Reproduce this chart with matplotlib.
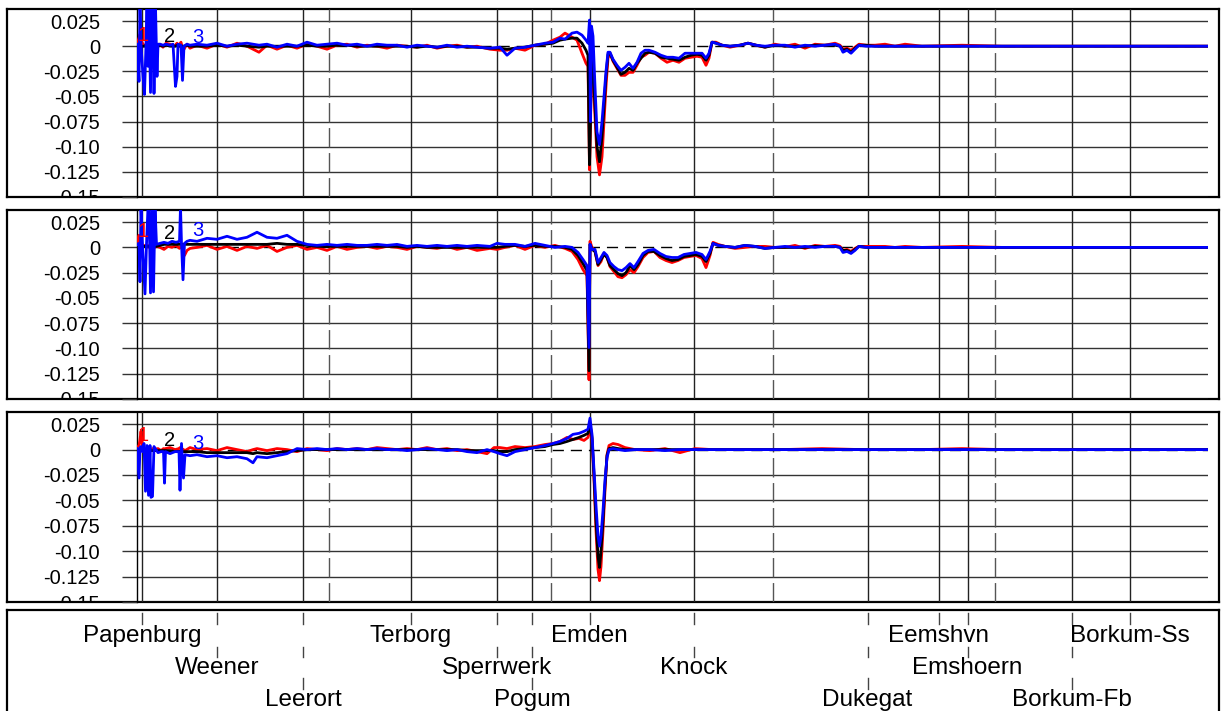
import matplotlib
matplotlib.use('Agg')
import matplotlib.pyplot as plt

plt.rcParams['font.family'] = ['Liberation Sans', 'DejaVu Sans']

# ---------------- stations / axes data (x in km along the estuary) ----------------
station_names = ['Papenburg', 'Weener', 'Leerort', 'Terborg', 'Sperrwerk', 'Pogum', 'Emden',
                 'Knock', 'Dukegat', 'Eemshvn', 'Emshoern', 'Borkum-Fb', 'Borkum-Ss']
station_km = [0.0, 7.5, 16.1, 26.9, 35.5, 39.0, 44.75, 55.2, 72.55, 79.7, 82.55, 93.0, 98.8]
station_row = [1, 2, 3, 1, 2, 3, 1, 2, 3, 1, 2, 3, 1]
boundary_km = [18.7, 40.9, 63.1, 85.3]
x_range = [-0.5, 106.6]
y_range = [-0.15, 0.037]
y_ticks = [0.025, 0, -0.025, -0.05, -0.075, -0.10, -0.125, -0.15]
y_ticklabels = ['0.025', '0', '-0.025', '-0.05', '-0.075', '-0.10', '-0.125', '-0.15']

# ---------------- panel 1 ----------------
p1_x = [-0.5, -0.3, -0.2, -0.1, 0.1, 0.25, 0.4, 0.5, 0.6, 0.7, 0.85, 1.0, 1.1, 1.2, 1.35, 1.5, 1.6, 1.8,
        2.1, 2.4, 2.8, 3.1, 3.35, 3.5, 3.6, 3.9, 4.05, 4.2, 4.5, 4.8,
        5.5, 6.5, 7.5, 8.5, 9.5, 10.5, 11.7, 12.5, 13.5, 14.5, 15.5, 16.5, 17.5, 18.5, 19.5, 20.5,
        21.5, 22.5, 23.5, 24.5, 25.5, 26.5, 27.5, 28.5, 29.5, 30.5, 31.5, 32.5, 33.5,
        34.8, 35.8, 36.5, 37.3, 38.3, 39.3, 40.3, 41.1, 41.8, 42.3, 43.0, 43.5, 44.0, 44.4, 44.6,
        44.75, 44.85, 44.95, 45.1, 45.3, 45.5, 45.75, 46.0, 46.2, 46.4, 46.6, 46.8, 47.1, 47.5,
        47.9, 48.3, 48.7, 49.1, 49.5, 49.9, 50.3, 50.7, 51.3, 51.9, 52.5, 53.1, 53.7, 54.3, 54.9,
        55.5, 56.0, 56.4, 56.7, 57.0, 57.4, 58.0, 58.8, 59.8, 60.6, 61.4, 62.3, 63.3, 64.3, 65.3,
        66.3, 67.3, 68.3, 69.3, 69.8, 70.1, 70.5, 70.9, 71.3, 71.7, 72.4, 73.3, 74.3, 75.3, 76.3,
        78.0, 82.0, 86.0, 90.0, 94.0, 98.0, 102.0, 106.6]
p1_red = [0.003, 0.008, 0.012, 0.006, 0.002, 0.001, 0.000, 0.002, -0.001, 0.001, 0.000, 0.002, 0.000, 0.001, -0.001, 0.001, 0.000, 0.002,
          -0.001, 0.003, 0.002, 0.000, 0.001, 0.003, 0.000, 0.004, -0.002, -0.003, 0.002, -0.002,
          0.001, -0.002, 0.002, -0.001, 0.003, 0.000, -0.006, 0.001, -0.003, 0.001, -0.002, 0.002, 0.000, -0.003, 0.001, 0.002,
          -0.001, 0.001, 0.000, -0.002, 0.001, 0.000, -0.001, 0.001, -0.002, 0.000, 0.001, -0.001, 0.000,
          -0.003, -0.004, -0.004, -0.002, -0.004, 0.001, 0.002, 0.006, 0.009, 0.013, 0.009, 0.006, -0.007, -0.017, -0.020,
          -0.123, -0.080, -0.010, -0.030, -0.070, -0.110, -0.128, -0.110, -0.075, -0.040, -0.012, -0.007, -0.015, -0.022,
          -0.029, -0.029, -0.026, -0.026, -0.019, -0.011, -0.009, -0.006, -0.007, -0.012, -0.016, -0.014, -0.016, -0.012, -0.011,
          -0.010, -0.011, -0.019, -0.012, 0.004, 0.004, 0.001, -0.001, 0.001, 0.003, 0.001, -0.001, 0.002, 0.000, 0.002,
          -0.002, 0.002, 0.001, 0.003, 0.001, -0.003, -0.002, -0.004, -0.001, 0.002, 0.001, 0.001, 0.002, 0.000, 0.002,
          0.000, 0.001, 0.000, 0.000, 0.000, 0.000, 0.000, 0.000]
p1_black = [0.001, 0.002, 0.001, 0.000, 0.000, 0.000, 0.001, 0.000, 0.000, 0.000, 0.001, 0.000, 0.000, 0.000, 0.000, 0.000, 0.000, 0.001,
            0.000, 0.001, 0.000, 0.000, 0.000, 0.001, 0.000, 0.000, 0.000, 0.000, 0.001, 0.000,
            0.000, 0.000, 0.001, 0.000, 0.001, 0.000, -0.001, 0.000, 0.000, 0.000, 0.000, 0.001, 0.000, 0.000, 0.001, 0.001,
            0.000, 0.000, 0.000, 0.000, 0.000, 0.000, -0.001, 0.000, -0.001, 0.000, 0.000, -0.001, -0.001,
            -0.002, -0.002, -0.003, -0.002, -0.001, 0.001, 0.002, 0.003, 0.006, 0.007, 0.008, 0.008, 0.003, -0.004, -0.009,
            -0.118, -0.075, 0.000, -0.020, -0.060, -0.100, -0.115, -0.090, -0.060, -0.030, -0.008, -0.007, -0.014, -0.021,
            -0.028, -0.026, -0.022, -0.024, -0.017, -0.012, -0.007, -0.006, -0.007, -0.011, -0.012, -0.013, -0.014, -0.011, -0.009,
            -0.008, -0.009, -0.014, -0.009, 0.004, 0.003, 0.001, 0.000, 0.001, 0.003, 0.001, -0.001, 0.001, 0.000, 0.000,
            0.000, 0.001, 0.001, 0.001, 0.000, -0.004, -0.003, -0.006, -0.002, 0.001, 0.001, 0.000, 0.000, 0.000, 0.000,
            0.000, 0.000, 0.000, 0.000, 0.000, 0.000, 0.000, 0.000]
p1_blue = [0.002, -0.035, 0.040, 0.002, -0.030, -0.048, 0.002, 0.040, -0.020, 0.040, -0.046, 0.040, 0.040, -0.047, 0.040, -0.030, 0.002, 0.002,
           0.001, 0.002, 0.001, 0.002, -0.040, -0.030, 0.002, 0.001, -0.034, 0.000, 0.002, 0.001,
           0.002, 0.001, 0.003, 0.000, 0.002, 0.003, 0.001, 0.002, -0.001, 0.002, 0.000, 0.004, 0.001, 0.002, 0.003, 0.001,
           0.002, 0.000, 0.002, 0.001, 0.001, -0.001, 0.001, 0.000, -0.001, 0.001, -0.001, 0.000, -0.001,
           -0.002, -0.001, -0.009, -0.002, -0.001, 0.001, 0.003, 0.004, 0.008, 0.007, 0.013, 0.014, 0.011, 0.006, 0.003,
           0.026, -0.075, 0.020, 0.010, -0.040, -0.085, -0.098, -0.075, -0.050, -0.025, -0.006, -0.006, -0.013, -0.019,
           -0.024, -0.021, -0.017, -0.022, -0.016, -0.007, -0.004, -0.004, -0.006, -0.009, -0.011, -0.011, -0.012, -0.007, -0.007,
           -0.007, -0.007, -0.012, -0.007, 0.004, 0.003, 0.001, 0.000, 0.001, 0.003, 0.001, 0.000, 0.001, 0.001, -0.001,
           0.001, 0.000, 0.001, 0.002, 0.000, -0.006, -0.004, -0.007, -0.003, 0.001, 0.000, 0.000, 0.000, 0.000, 0.000,
           0.000, 0.000, 0.000, 0.000, 0.000, 0.000, 0.000, 0.000]

# ---------------- panel 2 ----------------
p2_x = [-0.5, -0.3, -0.2, -0.1, 0.05, 0.3, 0.45, 0.6, 0.7, 0.85, 1.0, 1.15, 1.3, 1.45, 1.8, 2.2, 2.6, 3.0, 3.4,
        3.75, 3.85, 3.95, 4.1, 4.25, 4.5, 4.8,
        5.5, 6.5, 7.5, 8.5, 9.5, 10.5, 11.5, 12.5, 13.5, 14.5, 15.5, 16.5, 17.5, 18.5, 19.5, 20.5,
        21.5, 22.5, 23.5, 24.5, 25.5, 26.5, 27.5, 28.5, 29.5, 30.5, 31.5, 32.5, 33.5,
        34.8, 35.5, 36.3, 37.3, 38.3, 39.3, 40.3, 41.3, 42.3, 43.0, 43.6, 44.1, 44.5, 44.7, 44.8, 45.0,
        45.3, 45.6, 45.9, 46.2, 46.5, 46.8, 47.2, 47.6, 48.0, 48.4, 48.8, 49.2, 49.6, 50.1, 50.6, 51.2,
        51.8, 52.4, 53.0, 53.6, 54.2, 54.8, 55.4, 56.0, 56.4, 56.8, 57.1, 57.6, 58.3, 59.3, 60.3, 61.3,
        62.3, 63.3, 64.3, 65.3, 66.3, 67.3, 68.3, 69.3, 69.8, 70.1, 70.5, 70.9, 71.3, 71.7, 72.4, 73.3,
        74.3, 75.3, 76.3, 78.0, 82.0, 86.0, 90.0, 94.0, 98.0, 102.0, 106.6]
p2_red = [0.003, 0.012, 0.004, 0.008, 0.001, 0.002, 0.000, 0.002, 0.000, 0.001, -0.001, 0.001, 0.000, 0.001, 0.000, -0.002, 0.001, 0.000, 0.002,
          -0.001, 0.000, 0.000, -0.002, -0.008, -0.003, -0.001,
          0.000, 0.002, -0.002, 0.001, -0.003, 0.001, -0.001, 0.002, -0.004, 0.000, 0.002, -0.002, 0.000, -0.003, 0.001, -0.002,
          0.000, 0.001, -0.001, 0.001, 0.000, -0.002, 0.001, 0.000, -0.001, 0.001, -0.002, 0.000, -0.003,
          -0.001, -0.002, 0.000, 0.002, -0.002, 0.002, 0.000, 0.002, -0.001, -0.004, -0.012, -0.022, -0.028, -0.131, 0.006, 0.000,
          -0.004, -0.018, -0.014, -0.006, -0.010, -0.019, -0.024, -0.029, -0.030, -0.027, -0.022, -0.025, -0.019, -0.010, -0.005, -0.004,
          -0.010, -0.013, -0.015, -0.013, -0.010, -0.009, -0.008, -0.011, -0.020, -0.008, 0.005, 0.003, 0.001, -0.001, 0.000, 0.001,
          0.001, 0.000, 0.000, 0.002, -0.001, 0.002, 0.001, 0.002, 0.001, -0.003, -0.002, -0.004, -0.001, 0.001, 0.001, 0.001,
          0.001, 0.000, 0.001, 0.000, 0.001, 0.000, 0.000, 0.000, 0.000, 0.000, 0.000]
p2_black = [0.001, 0.002, 0.001, 0.001, 0.001, 0.001, 0.001, 0.001, 0.001, 0.001, 0.001, 0.001, 0.001, 0.001, 0.002, 0.003, 0.003, 0.003, 0.003,
            0.003, 0.003, 0.003, 0.003, 0.003, 0.003, 0.003,
            0.003, 0.003, 0.003, 0.003, 0.003, 0.003, 0.003, 0.003, 0.004, 0.003, 0.003, 0.002, 0.001, 0.001, 0.001, 0.001,
            0.001, 0.001, 0.001, 0.001, 0.001, 0.000, 0.001, 0.000, 0.000, 0.000, 0.000, 0.000, 0.000,
            0.000, 0.000, 0.001, 0.002, 0.001, 0.002, 0.001, 0.001, 0.000, -0.002, -0.008, -0.016, -0.023, -0.122, 0.003, -0.002,
            -0.004, -0.017, -0.012, -0.007, -0.010, -0.018, -0.022, -0.026, -0.028, -0.025, -0.018, -0.022, -0.017, -0.008, -0.004, -0.004,
            -0.008, -0.011, -0.013, -0.012, -0.009, -0.008, -0.007, -0.009, -0.014, -0.006, 0.004, 0.002, 0.001, 0.000, 0.002, 0.001,
            -0.001, 0.000, 0.000, 0.000, 0.000, 0.001, 0.001, 0.001, 0.000, -0.003, -0.003, -0.005, -0.002, 0.001, 0.000, 0.000,
            0.000, 0.000, 0.000, 0.000, 0.000, 0.000, 0.000, 0.000, 0.000, 0.000, 0.000]
p2_blue = [0.003, 0.004, -0.034, 0.040, 0.002, -0.046, 0.003, 0.040, 0.040, -0.045, 0.040, -0.044, 0.040, 0.003, 0.004, 0.005, 0.004, 0.006, 0.005,
           0.006, 0.040, 0.004, -0.032, 0.004, 0.006, 0.007,
           0.006, 0.009, 0.008, 0.011, 0.008, 0.010, 0.015, 0.010, 0.009, 0.012, 0.006, 0.003, 0.002, 0.003, 0.002, 0.003,
           0.002, 0.002, 0.003, 0.002, 0.003, 0.001, 0.002, 0.001, 0.002, 0.001, 0.002, 0.001, 0.002,
           0.001, 0.004, 0.003, 0.003, 0.001, 0.004, 0.002, 0.000, 0.001, 0.000, -0.005, -0.012, -0.018, -0.099, 0.003, -0.002,
           -0.002, -0.015, -0.010, -0.005, -0.008, -0.015, -0.019, -0.022, -0.023, -0.020, -0.016, -0.020, -0.014, -0.006, -0.003, -0.002,
           -0.006, -0.009, -0.010, -0.010, -0.007, -0.006, -0.005, -0.007, -0.012, -0.004, 0.004, 0.002, 0.001, 0.000, 0.002, 0.001,
           -0.001, 0.000, 0.001, 0.000, 0.001, 0.000, 0.001, 0.001, 0.000, -0.005, -0.004, -0.006, -0.003, 0.001, 0.000, 0.000,
           0.000, 0.000, 0.000, 0.000, 0.000, 0.000, 0.000, 0.000, 0.000, 0.000, 0.000]

# ---------------- panel 3 ----------------
p3_x = [-0.5, -0.3, -0.2, -0.1, 0.05, 0.2, 0.35, 0.5, 0.65, 0.8, 0.9, 1.05, 1.2, 1.6, 1.9, 2.15, 2.25, 2.35, 2.8,
        3.3, 3.7, 3.8, 3.95, 4.15, 4.3, 4.8,
        5.5, 6.5, 7.5, 8.5, 9.5, 10.5, 11.1, 11.5, 12.5, 13.5, 14.5, 15.5, 16.5, 17.5, 18.5, 19.5, 20.5,
        21.5, 22.5, 23.5, 24.5, 25.5, 26.5, 27.5, 28.5, 29.5, 30.5, 31.5, 32.5, 33.5,
        34.5, 35.2, 35.8, 36.5, 37.3, 38.3, 39.3, 40.3, 41.1, 41.8, 42.5, 43.1, 43.7, 44.2, 44.6, 44.8,
        45.0, 45.2, 45.4, 45.6, 45.75, 45.9, 46.1, 46.3, 46.5, 46.7, 47.1, 47.6, 48.3, 49.3, 50.8, 52.3,
        53.8, 55.3, 57.0, 60.0, 64.0, 68.0, 72.0, 76.0, 78.0, 82.0, 86.0, 90.0, 94.0, 98.0, 102.0, 106.6]
p3_red = [0.002, 0.004, 0.010, 0.018, 0.003, 0.001, 0.000, 0.001, 0.000, 0.001, 0.000, 0.001, 0.000, 0.001, -0.001, 0.001, 0.000, 0.001, 0.002,
          0.000, 0.001, 0.002, 0.001, 0.000, -0.001, 0.002,
          0.000, 0.001, -0.001, 0.002, 0.000, -0.002, 0.000, 0.001, -0.001, 0.001, 0.000, -0.002, 0.001, 0.000, -0.001, 0.001, 0.000,
          0.001, 0.000, 0.002, 0.001, 0.000, 0.001, 0.000, 0.002, 0.000, 0.001, -0.001, 0.000, -0.002,
          -0.004, 0.002, 0.002, 0.001, 0.003, 0.002, 0.003, 0.005, 0.006, 0.008, 0.012, 0.010, 0.011, 0.009, 0.012, 0.020,
          0.010, -0.030, -0.080, -0.118, -0.129, -0.115, -0.080, -0.040, -0.005, 0.004, 0.006, 0.005, 0.002, 0.000, -0.001, 0.001,
          -0.003, 0.001, 0.000, 0.000, 0.000, 0.001, 0.000, 0.000, 0.000, 0.001, 0.000, 0.000, 0.000, 0.000, 0.000, 0.000]
p3_black = [0.000, 0.000, 0.000, 0.000, 0.000, 0.000, 0.000, 0.000, 0.000, 0.000, -0.001, -0.001, -0.001, -0.001, -0.001, -0.001, -0.001, -0.001, -0.001,
            -0.002, -0.002, -0.002, -0.002, -0.002, -0.002, -0.002,
            -0.002, -0.003, -0.003, -0.003, -0.003, -0.003, -0.004, -0.003, -0.004, -0.003, -0.002, -0.001, 0.000, 0.000, 0.000, 0.000, 0.000,
            0.000, 0.000, 0.000, 0.000, 0.000, 0.000, 0.000, 0.000, 0.000, 0.000, 0.000, -0.001, -0.001,
            -0.001, -0.001, -0.002, -0.002, 0.000, 0.001, 0.002, 0.003, 0.005, 0.006, 0.008, 0.010, 0.012, 0.014, 0.016, 0.025,
            0.012, -0.025, -0.070, -0.105, -0.116, -0.100, -0.070, -0.035, -0.006, 0.001, 0.002, 0.001, 0.000, 0.000, 0.000, 0.000,
            0.000, 0.000, 0.000, 0.000, 0.000, 0.000, 0.000, 0.000, 0.000, 0.000, 0.000, 0.000, 0.000, 0.000, 0.000, 0.000]
p3_blue = [0.001, -0.028, 0.002, 0.003, -0.002, 0.006, -0.041, 0.004, -0.045, 0.004, -0.047, -0.046, 0.003, -0.003, -0.002, -0.002, -0.033, -0.002, -0.004,
           -0.002, -0.002, -0.040, 0.006, -0.028, -0.005, -0.006,
           -0.005, -0.007, -0.006, -0.008, -0.007, -0.009, -0.013, -0.007, -0.008, -0.006, -0.004, 0.001, 0.000, 0.001, 0.000, 0.001, 0.000,
           0.001, 0.000, 0.001, 0.000, 0.000, -0.001, 0.000, 0.001, 0.000, -0.001, 0.000, -0.002, -0.003,
           0.000, -0.002, -0.004, -0.006, -0.002, 0.000, 0.002, 0.004, 0.006, 0.008, 0.011, 0.015, 0.016, 0.018, 0.020, 0.031,
           0.015, -0.020, -0.055, -0.085, -0.095, -0.085, -0.060, -0.030, -0.008, 0.000, 0.001, 0.000, -0.001, 0.000, 0.000, -0.001,
           0.000, 0.000, 0.000, 0.000, 0.000, 0.000, 0.000, 0.000, 0.000, 0.000, 0.000, 0.000, 0.000, 0.000, 0.000, 0.000]

run_labels = ['1', '2', '3']
run_colors = ['#ff0000', '#000000', '#0000ff']
run_label_x = [0.1, 2.8, 5.6]
run_label_y = [[0.011, 0.0094, 0.0085], [0.016, 0.014, 0.0165], [0.014, 0.009, 0.006]]

panels = [(p1_x, p1_red, p1_black, p1_blue),
          (p2_x, p2_red, p2_black, p2_blue),
          (p3_x, p3_red, p3_black, p3_blue)]

# ---------------- layout ----------------
W, H = 1221, 711
fig = plt.figure(figsize=(W / 100, H / 100), dpi=100)
fig.patch.set_facecolor('white')


def rect(x0, x1, top, bot):
    return [x0 / W, 1 - bot / H, (x1 - x0) / W, (bot - top) / H]


FRAME_L, FRAME_R = 7, 1219
AX_L, AX_R = 137, 1208
panel_tb = [(9, 197), (210, 399), (412, 602)]

for pi, (top, bot) in enumerate(panel_tb):
    frame = fig.add_axes(rect(FRAME_L, FRAME_R, top, bot))
    frame.set_xticks([])
    frame.set_yticks([])
    for s in frame.spines.values():
        s.set_linewidth(1.6)
        s.set_color('black')

    ax = fig.add_axes(rect(AX_L, AX_R, top, bot))
    ax.patch.set_alpha(0)
    ax.set_xlim(*x_range)
    ax.set_ylim(*y_range)
    ax.set_xticks([])
    ax.set_yticks(y_ticks)
    ax.set_yticklabels(y_ticklabels)
    ax.tick_params(axis='y', length=11, width=1.0, color='#333333', pad=15.5, labelsize=14.5)
    for s in ['top', 'right', 'bottom']:
        ax.spines[s].set_visible(False)
    ax.spines['left'].set_linewidth(1.0)
    ax.spines['left'].set_color('black')

    for yv in y_ticks:
        if yv != 0:
            ax.axhline(yv, color='#333333', lw=1.0, zorder=1)
    for xs in station_km:
        ax.axvline(xs, color='#222222', lw=1.0, zorder=1)
    for xb in boundary_km:
        ax.axvline(xb, color='#555555', lw=1.0, dashes=(14, 4), zorder=1)
    ax.axhline(0, color='black', lw=1.0, dashes=(8, 5), zorder=1)

    xs_, r_, k_, b_ = panels[pi]
    ax.plot(xs_, r_, color=run_colors[0], lw=2.0, zorder=3)
    ax.plot(xs_, k_, color=run_colors[1], lw=2.0, zorder=4)
    ax.plot(xs_, b_, color=run_colors[2], lw=2.0, zorder=5)

    for li in range(3):
        ax.text(run_label_x[li], run_label_y[pi][li], run_labels[li], color=run_colors[li],
                fontsize=14.5, ha='center', va='center', zorder=6)

    for t in ax.get_yticklabels():
        t.set_clip_box(frame.bbox)
        t.set_clip_on(True)

# ---------------- station label panel ----------------
LAB_TOP, LAB_BOT = 610, 730
frame4 = fig.add_axes(rect(FRAME_L, FRAME_R, LAB_TOP, LAB_BOT))
frame4.set_xticks([])
frame4.set_yticks([])
for s in frame4.spines.values():
    s.set_linewidth(1.6)
    s.set_color('black')

lab = fig.add_axes(rect(AX_L, AX_R, LAB_TOP, LAB_BOT))
lab.set_xlim(*x_range)
lab.set_ylim(LAB_BOT, LAB_TOP)
lab.axis('off')

row_tick_top = [613, 646.5, 678]
row_tick_len = 10.5
row_baseline = [642, 674, 706]
for name, xk, row in zip(station_names, station_km, station_row):
    for r in range(row):
        lab.plot([xk, xk], [row_tick_top[r], row_tick_top[r] + row_tick_len],
                 color='#444444', lw=1.0)
    lab.text(xk, row_baseline[row - 1], name, fontsize=17.5, ha='center', va='baseline')

fig.savefig('out.png', dpi=100, facecolor='white')
